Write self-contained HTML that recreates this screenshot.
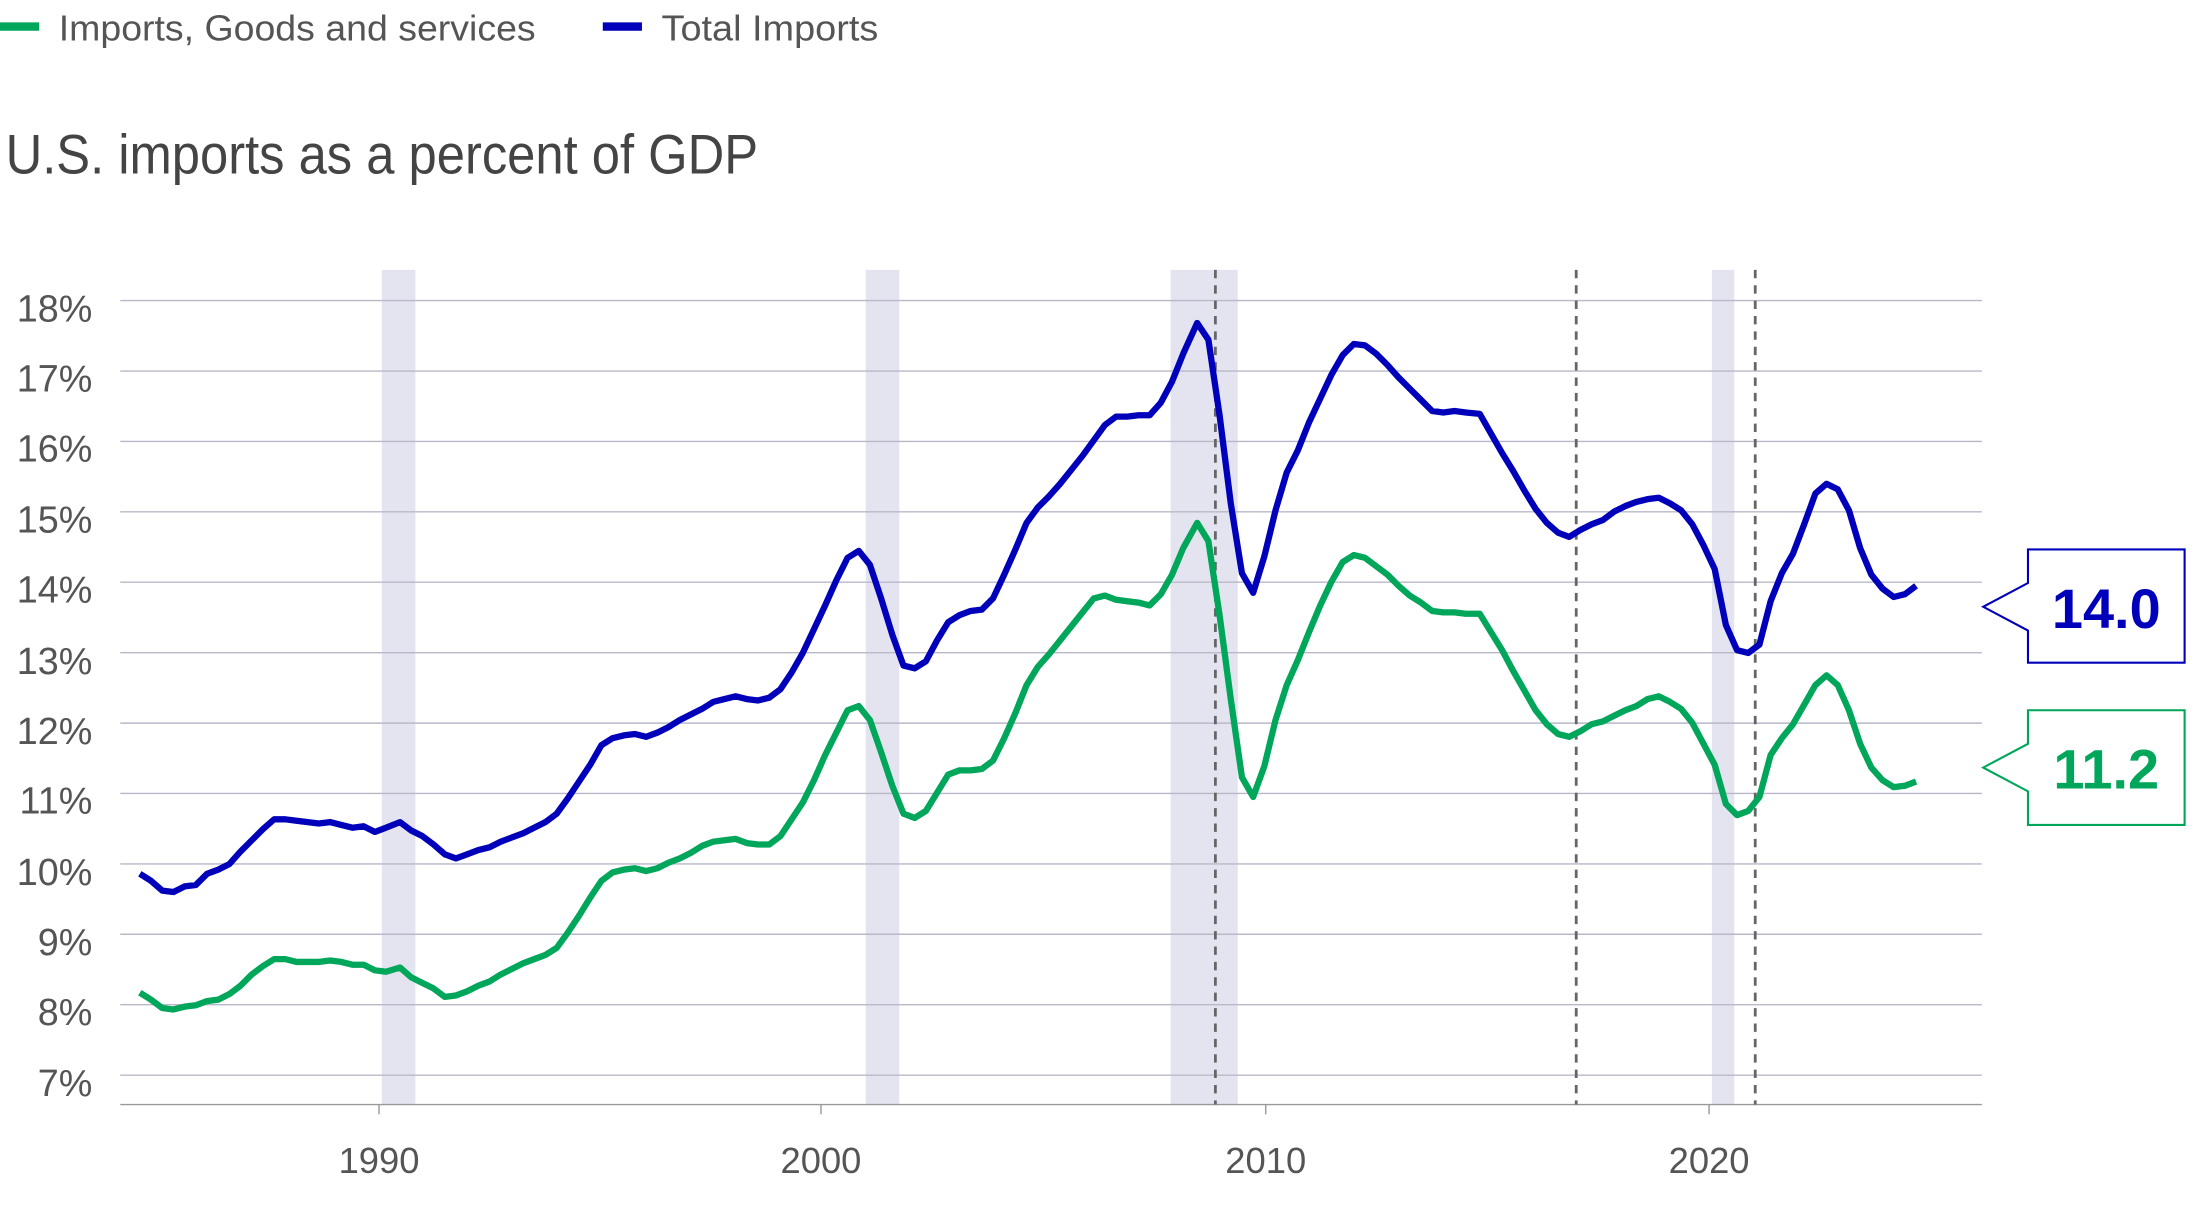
<!DOCTYPE html>
<html><head><meta charset="utf-8"><style>
html,body{margin:0;padding:0;background:#fff;}
svg{display:block;}
text{font-family:"Liberation Sans",sans-serif;}
</style></head><body>
<svg width="2193" height="1208" viewBox="0 0 1568 864" preserveAspectRatio="none" xmlns="http://www.w3.org/2000/svg">
<rect x="0" y="0" width="1568" height="864" fill="#fff"/>
<rect x="0" y="16" width="28" height="6" fill="#00a65a"/>
<text x="42" y="29" font-size="26" fill="#555" textLength="341" lengthAdjust="spacingAndGlyphs">Imports, Goods and services</text>
<rect x="431" y="16" width="28" height="6" fill="#0000bb"/>
<text x="473" y="29" font-size="26" fill="#555" textLength="155" lengthAdjust="spacingAndGlyphs">Total Imports</text>
<text x="4" y="124" font-size="40" fill="#444" textLength="538" lengthAdjust="spacingAndGlyphs">U.S. imports as a percent of GDP</text>
<g fill="#e4e4f0">
<rect x="273" y="193" width="24" height="597"/>
<rect x="619" y="193" width="24" height="597"/>
<rect x="837" y="193" width="48" height="597"/>
<rect x="1224" y="193" width="16" height="597"/>
</g>
<g stroke="#b8b8c8" stroke-width="1">
<line x1="86" x2="1417" y1="215" y2="215"/>
<line x1="86" x2="1417" y1="265.4" y2="265.4"/>
<line x1="86" x2="1417" y1="315.7" y2="315.7"/>
<line x1="86" x2="1417" y1="366.1" y2="366.1"/>
<line x1="86" x2="1417" y1="416.4" y2="416.4"/>
<line x1="86" x2="1417" y1="466.8" y2="466.8"/>
<line x1="86" x2="1417" y1="517.2" y2="517.2"/>
<line x1="86" x2="1417" y1="567.5" y2="567.5"/>
<line x1="86" x2="1417" y1="617.9" y2="617.9"/>
<line x1="86" x2="1417" y1="668.2" y2="668.2"/>
<line x1="86" x2="1417" y1="718.6" y2="718.6"/>
<line x1="86" x2="1417" y1="769" y2="769"/>
</g>
<line x1="86" x2="1417" y1="790" y2="790" stroke="#999" stroke-width="1"/>
<g stroke="#999" stroke-width="1">
<line x1="271" x2="271" y1="790" y2="797"/>
<line x1="587" x2="587" y1="790" y2="797"/>
<line x1="905" x2="905" y1="790" y2="797"/>
<line x1="1222" x2="1222" y1="790" y2="797"/>
</g>
<g stroke="#666" stroke-width="2" stroke-dasharray="6,5">
<line x1="869" x2="869" y1="193" y2="790"/>
<line x1="1127" x2="1127" y1="193" y2="790"/>
<line x1="1255" x2="1255" y1="193" y2="790"/>
</g>
<g font-size="27" fill="#555" text-anchor="end">
<text x="66" y="230">18%</text>
<text x="66" y="280">17%</text>
<text x="66" y="330">16%</text>
<text x="66" y="381">15%</text>
<text x="66" y="431">14%</text>
<text x="66" y="482">13%</text>
<text x="66" y="532">12%</text>
<text x="66" y="582">11%</text>
<text x="66" y="633">10%</text>
<text x="66" y="683">9%</text>
<text x="66" y="733">8%</text>
<text x="66" y="784">7%</text>
</g>
<g font-size="26" fill="#555" text-anchor="middle">
<text x="271" y="839">1990</text>
<text x="587" y="839">2000</text>
<text x="905" y="839">2010</text>
<text x="1222" y="839">2020</text>
</g>
<polyline fill="none" stroke="#0000bb" stroke-width="4.5" stroke-linejoin="round" points="100,625 108,630 116,637 124,638 132,634 140,633 148,625 156,622 164,618 172,609 180,601 188,593 196,586 204,586 212,587 220,588 228,589 236,588 244,590 252,592 260,591 268,595 276,592 286,588 294,594 302,598 310,604 318,611 326,614 334,611 342,608 350,606 358,602 366,599 374,596 382,592 390,588 398,582 406,571 414,559 422,547 430,533 438,528 446,526 454,525 462,527 470,524 478,520 486,515 494,511 502,507 510,502 518,500 526,498 534,500 542,501 550,499 558,493 566,481 574,467 582,450 590,433 598,415 606,399 614,394 622,404 630,428 638,454 646,476 654,478 662,473 670,458 678,445 686,440 694,437 702,436 710,428 718,411 726,393 734,374 742,363 750,355 758,346 766,336 774,326 782,315 790,304 798,298 806,298 814,297 822,297 830,288 838,273 846,253 856,231 864,243 872,297 880,360 888,410 896,424 904,398 912,365 920,338 928,322 936,302 944,285 952,268 960,254 968,246 976,247 984,253 992,261 1000,270 1008,278 1016,286 1024,294 1032,295 1040,294 1048,295 1058,296 1066,310 1074,324 1082,337 1090,351 1098,364 1106,374 1114,381 1122,384 1130,379 1138,375 1146,372 1154,366 1162,362 1170,359 1178,357 1186,356 1194,360 1202,365 1210,375 1218,390 1226,407 1234,447 1242,465 1250,467 1258,461 1266,430 1274,410 1282,396 1290,375 1298,353 1306,346 1314,350 1322,365 1330,392 1338,411 1346,421 1354,427 1362,425 1370,419"/>
<polyline fill="none" stroke="#00a65a" stroke-width="4.5" stroke-linejoin="round" points="100,710 108,715 116,721 124,722 132,720 140,719 148,716 156,715 164,711 172,705 180,697 188,691 196,686 204,686 212,688 220,688 228,688 236,687 244,688 252,690 260,690 268,694 276,695 286,692 294,699 302,703 310,707 318,713 326,712 334,709 342,705 350,702 358,697 366,693 374,689 382,686 390,683 398,678 406,667 414,655 422,642 430,630 438,624 446,622 454,621 462,623 470,621 478,617 486,614 494,610 502,605 510,602 518,601 526,600 534,603 542,604 550,604 558,598 566,586 574,574 582,558 590,540 598,524 606,508 614,505 622,515 630,538 638,562 646,582 654,585 662,580 670,567 678,554 686,551 694,551 702,550 710,544 718,528 726,510 734,490 742,477 750,468 758,458 766,448 774,438 782,428 790,426 798,429 806,430 814,431 822,433 830,425 838,411 846,392 856,374 864,387 872,440 880,500 888,556 896,570 904,548 912,515 920,490 928,472 936,452 944,433 952,416 960,402 968,397 976,399 984,405 992,411 1000,419 1008,426 1016,431 1024,437 1032,438 1040,438 1048,439 1058,439 1066,452 1074,465 1082,480 1090,494 1098,508 1106,518 1114,525 1122,527 1130,523 1138,518 1146,516 1154,512 1162,508 1170,505 1178,500 1186,498 1194,502 1202,507 1210,517 1218,532 1226,547 1234,575 1242,583 1250,580 1258,570 1266,540 1274,528 1282,518 1290,504 1298,490 1306,483 1314,490 1322,508 1330,532 1338,549 1346,558 1354,563 1362,562 1370,559"/>
<path d="M1450,393 H1562 V474 H1450 V451 L1418,434 L1450,417 Z" fill="#fff" stroke="#0000bb" stroke-width="1.5"/>
<text x="1506" y="449" font-size="40" font-weight="bold" fill="#0000bb" text-anchor="middle">14.0</text>
<path d="M1450,508 H1562 V590 H1450 V566 L1418,549 L1450,532 Z" fill="#fff" stroke="#00a65a" stroke-width="1.5"/>
<text x="1506" y="564" font-size="40" font-weight="bold" fill="#00a65a" text-anchor="middle">11.2</text>
</svg>
</body></html>
